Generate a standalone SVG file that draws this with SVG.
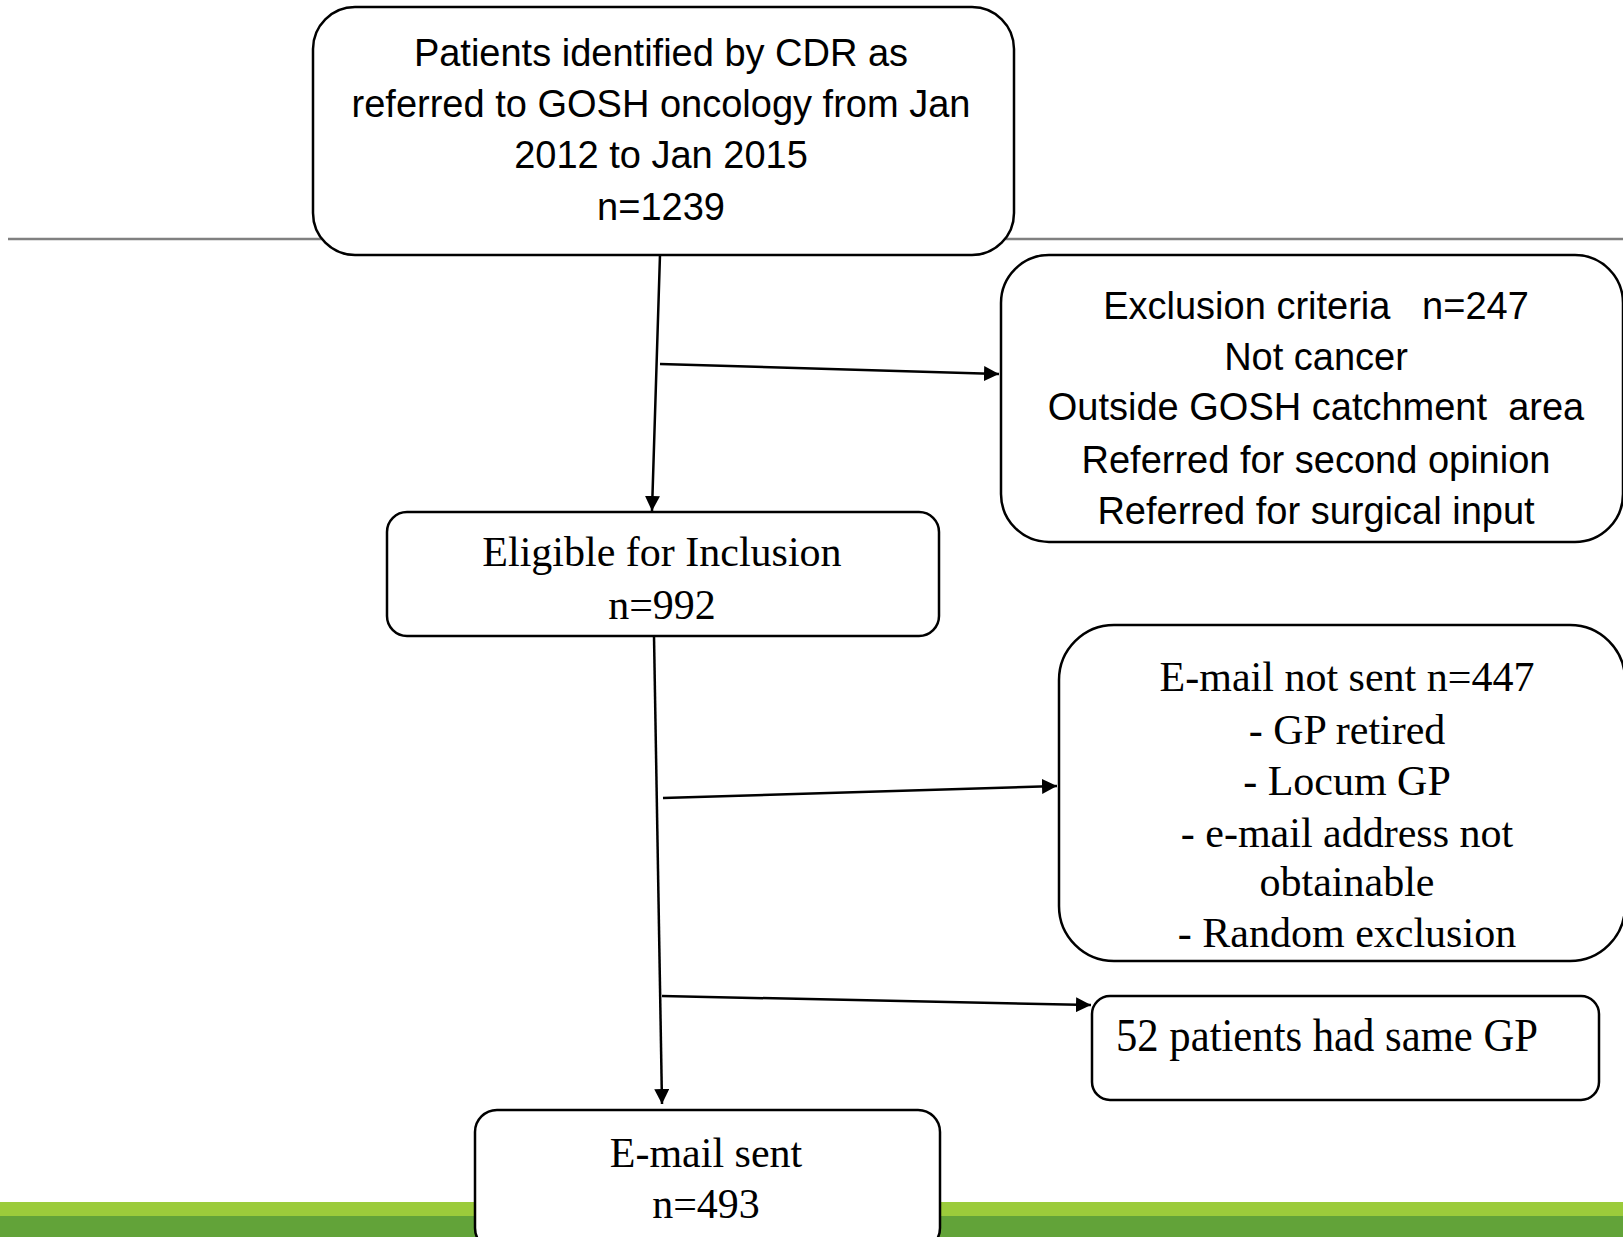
<svg xmlns="http://www.w3.org/2000/svg" width="1623" height="1237" viewBox="0 0 1623 1237">
<style>
.box{fill:#fff;stroke:#000;stroke-width:2.5}
.sans{font-family:"Liberation Sans",Arial,sans-serif;font-size:38px;fill:#000;text-anchor:middle}
.serif{font-family:"Liberation Serif","Times New Roman",serif;font-size:42px;fill:#000;text-anchor:middle}
.conn{stroke:#000;stroke-width:2.5;fill:none}
</style>
<defs>
<marker id="arr" viewBox="0 0 10 10" refX="10" refY="5" markerWidth="6" markerHeight="6" markerUnits="strokeWidth" orient="auto">
<path d="M0,0 L10,5 L0,10 Z" fill="#000"/>
</marker>
</defs>
<rect width="1623" height="1237" fill="#fff"/>
<g id="background">
<line x1="8" y1="239" x2="1623" y2="239" stroke="#808080" stroke-width="2.5"/>
<rect x="0" y="1202" width="1623" height="14" fill="#9BCB3B"/>
<rect x="0" y="1216" width="1623" height="21" fill="#62A339"/>
</g>
<g id="connectors">
<line class="conn" x1="660" y1="255" x2="652" y2="511" marker-end="url(#arr)"/>
<line class="conn" x1="660" y1="364" x2="999" y2="374" marker-end="url(#arr)"/>
<line class="conn" x1="654" y1="636" x2="662" y2="1104" marker-end="url(#arr)"/>
<line class="conn" x1="663" y1="798" x2="1057" y2="786" marker-end="url(#arr)"/>
<line class="conn" x1="662" y1="996" x2="1091" y2="1005" marker-end="url(#arr)"/>
</g>
<g id="node-patients">
<rect class="box" x="313" y="7" width="701" height="248" rx="42"/>
<text class="sans"><tspan x="661" y="66">Patients identified by CDR as</tspan><tspan x="661" y="117">referred to GOSH oncology from Jan</tspan><tspan x="661" y="168">2012 to Jan 2015</tspan><tspan x="661" y="220">n=1239</tspan></text>
</g>
<g id="node-exclusion">
<rect class="box" x="1001" y="255" width="622" height="287" rx="48"/>
<text class="sans" xml:space="preserve"><tspan x="1316" y="319">Exclusion criteria   n=247</tspan><tspan x="1316" y="370">Not cancer</tspan><tspan x="1316" y="420">Outside GOSH catchment  area</tspan><tspan x="1316" y="473">Referred for second opinion</tspan><tspan x="1316" y="524">Referred for surgical input</tspan></text>
</g>
<g id="node-eligible">
<rect class="box" x="387" y="512" width="552" height="124" rx="20"/>
<text class="serif"><tspan x="662" y="566">Eligible for Inclusion</tspan><tspan x="662" y="619">n=992</tspan></text>
</g>
<g id="node-notsent">
<rect class="box" x="1059" y="625" width="566" height="336" rx="55"/>
<text class="serif"><tspan x="1347" y="691">E-mail not sent n=447</tspan><tspan x="1347" y="744">- GP retired</tspan><tspan x="1347" y="795">- Locum GP</tspan><tspan x="1347" y="847">- e-mail address not</tspan><tspan x="1347" y="896">obtainable</tspan><tspan x="1347" y="947">- Random exclusion</tspan></text>
</g>
<g id="node-samegp">
<rect class="box" x="1092" y="996" width="507" height="104" rx="18"/>
<text class="serif" x="1116" y="1051" style="text-anchor:start;font-size:46px" textLength="422" lengthAdjust="spacingAndGlyphs">52 patients had same GP</text>
</g>
<g id="node-sent">
<rect class="box" x="475" y="1110" width="465" height="140" rx="22"/>
<text class="serif"><tspan x="706" y="1167">E-mail sent</tspan><tspan x="706" y="1218">n=493</tspan></text>
</g>
</svg>
